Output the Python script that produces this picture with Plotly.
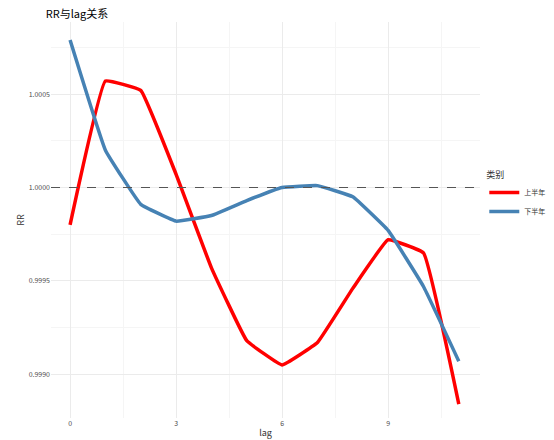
import plotly.graph_objects as go

lag = list(range(12))
rr_first = [0.99980, 1.00057, 1.00052, 1.00007, 0.99957, 0.99918, 0.99905, 0.99917, 0.99946, 0.99972, 0.99965, 0.99884]
rr_second = [1.00079, 1.00020, 0.99991, 0.99982, 0.99985, 0.99993, 1.00000, 1.00001, 0.99995, 0.99977, 0.99947, 0.99907]
tick_vals = [0.9990, 0.9995, 1.0000, 1.0005]

fig = go.Figure()
fig.add_trace(go.Scatter(x=lag, y=rr_first, name="上半年", mode="lines",
                         line=dict(color="#ff0000", width=3.5, shape="spline", smoothing=0.25)))
fig.add_trace(go.Scatter(x=lag, y=rr_second, name="下半年", mode="lines",
                         line=dict(color="#4682b4", width=3.5, shape="spline", smoothing=0.25)))
fig.add_hline(y=1.0, line=dict(color="#555555", dash="dash", width=1))

font = "Noto Sans CJK SC, sans-serif"
fig.update_layout(
    width=554, height=440, plot_bgcolor="white", paper_bgcolor="white",
    margin=dict(l=28, r=67, t=14, b=28),
    font=dict(family=font, size=9, color="#333333"),
    title=dict(text="RR与lag关系", x=0.068, y=0.995, xanchor="left", yanchor="top",
               font=dict(size=11, color="#000000")),
    legend=dict(title=dict(text="类别", font=dict(size=9)), x=1.01, y=0.56, yanchor="middle",
                font=dict(size=7)),
)
fig.update_xaxes(title=dict(text="lag", standoff=2, font=dict(size=9)), tickvals=[0, 3, 6, 9],
                 range=[-0.54, 11.6],
                 showgrid=True, gridcolor="#ebebeb", minor=dict(dtick=1.5, showgrid=True, gridcolor="#f5f5f5"),
                 zeroline=False, tickfont=dict(size=7, color="#4d4d4d"), ticks="")
fig.update_yaxes(title=dict(text="RR", standoff=2, font=dict(size=9)), tickvals=tick_vals, tickformat=".4f",
                 range=[0.998766, 1.000886], showgrid=True, gridcolor="#ebebeb",
                 minor=dict(tickvals=[0.99875, 0.99925, 0.99975, 1.00025, 1.00075], showgrid=True, gridcolor="#f5f5f5"),
                 zeroline=False, tickfont=dict(size=7, color="#4d4d4d"), ticks="")

fig.write_html("out.html")
